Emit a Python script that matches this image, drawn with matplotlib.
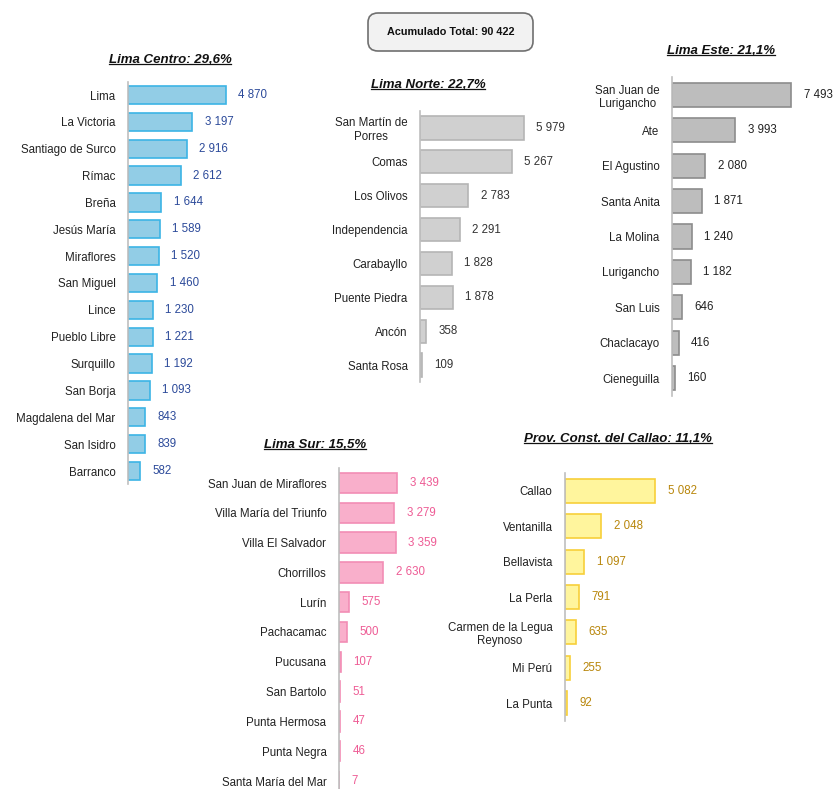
import matplotlib
matplotlib.use("Agg")
import matplotlib.pyplot as plt
from matplotlib.lines import Line2D
from matplotlib.patches import FancyBboxPatch

plt.rcParams['font.family'] = ['Liberation Sans', 'DejaVu Sans']

# ---------------- data ----------------
total_label = "Acumulado Total: 90 422"

centro_title = "Lima Centro: 29,6%"
centro_names = ["Lima", "La Victoria", "Santiago de Surco", "Rímac", "Breña", "Jesús María",
                "Miraflores", "San Miguel", "Lince", "Pueblo Libre", "Surquillo", "San Borja",
                "Magdalena del Mar", "San Isidro", "Barranco"]
centro_vals = [4870, 3197, 2916, 2612, 1644, 1589, 1520, 1460, 1230, 1221, 1192, 1093, 843, 839, 582]

norte_title = "Lima Norte: 22,7%"
norte_names = ["San Martín de\nPorres", "Comas", "Los Olivos", "Independencia", "Carabayllo",
               "Puente Piedra", "Ancón", "Santa Rosa"]
norte_vals = [5979, 5267, 2783, 2291, 1828, 1878, 358, 109]

este_title = "Lima Este: 21,1%"
este_names = ["San Juan de\nLurigancho", "Ate", "El Agustino", "Santa Anita", "La Molina",
              "Lurigancho", "San Luis", "Chaclacayo", "Cieneguilla"]
este_vals = [7493, 3993, 2080, 1871, 1240, 1182, 646, 416, 160]

sur_title = "Lima Sur: 15,5%"
sur_names = ["San Juan de Miraflores", "Villa María del Triunfo", "Villa El Salvador", "Chorrillos",
             "Lurín", "Pachacamac", "Pucusana", "San Bartolo", "Punta Hermosa", "Punta Negra",
             "Santa María del Mar"]
sur_vals = [3439, 3279, 3359, 2630, 575, 500, 107, 51, 47, 46, 7]

callao_title = "Prov. Const. del Callao: 11,1%"
callao_names = ["Callao", "Ventanilla", "Bellavista", "La Perla", "Carmen de la Legua\nReynoso",
                "Mi Perú", "La Punta"]
callao_vals = [5082, 2048, 1097, 791, 635, 255, 92]

W, H = 834, 789
fig = plt.figure(figsize=(W / 100, H / 100), dpi=100)
fig.patch.set_facecolor("white")

FS = 8.3


def fx(px):
    return px / W


def fy(py):
    return 1 - py / H


def panel(names, vals, x0, y_first, y_last, barlen, fill, edge, valcolor, title, title_xy):
    n = len(vals)
    step = (y_last - y_first) / (n - 1)
    top = y_first - 0.5 * step
    bottom = y_last + 0.5 * step
    width_px = 150
    ax = fig.add_axes([fx(x0), fy(bottom), fx(width_px), (bottom - top) / H])
    ax.set_facecolor("none")
    xmax = max(vals) * width_px / barlen
    ax.barh(range(n), vals, height=0.68, color=fill, edgecolor=edge, linewidth=1.2)
    ax.set_xlim(0, xmax)
    ax.set_ylim(n - 0.5, -0.5)
    ax.set_yticks(range(n))
    ax.set_yticklabels(names, fontsize=FS, color="#222222", linespacing=1.15)
    for lab in ax.get_yticklabels():
        lab.set_multialignment("center")
    ax.tick_params(axis="y", length=0, pad=9)
    ax.set_xticks([])
    for s in ["top", "right", "bottom"]:
        ax.spines[s].set_visible(False)
    ax.spines["left"].set_color("#BFBFBF")
    ax.spines["left"].set_linewidth(1.2)
    for i, v in enumerate(vals):
        ax.annotate(f"{v:,}".replace(",", " "), xy=(v, i), xytext=(9, 0),
                    textcoords="offset points", va="center", ha="left",
                    fontsize=FS, color=valcolor)
    t = fig.text(fx(title_xy[0]), fy(title_xy[1]), title, ha="center", va="center",
                 fontsize=9.5, fontweight="bold", fontstyle="italic", color="#111111")
    return t


titles = []
titles.append(panel(centro_names, centro_vals, 128, 95, 471, 98,
                    "#92CDE6", "#3CB4E5", "#2C4A9A", centro_title, (170, 60)))
titles.append(panel(norte_names, norte_vals, 420, 128, 365, 104,
                    "#D0D0D0", "#B5B5B5", "#333333", norte_title, (428, 85)))
titles.append(panel(este_names, este_vals, 672, 95, 378, 119,
                    "#BDBDBD", "#8C8C8C", "#222222", este_title, (721, 51)))
titles.append(panel(sur_names, sur_vals, 339, 483, 781, 58,
                    "#F9AFCB", "#F28DB5", "#EE5C95", sur_title, (315, 445)))
titles.append(panel(callao_names, callao_vals, 565, 491, 703, 90,
                    "#FFF59D", "#F7CF3A", "#B8860B", callao_title, (618, 439)))

# total box
box = FancyBboxPatch((fx(368), fy(51)), fx(165), (51 - 13) / H,
                     boxstyle="round,pad=0,rounding_size=0.012",
                     transform=fig.transFigure, facecolor="#F2F2F2",
                     edgecolor="#707070", linewidth=1.2)
fig.add_artist(box)
fig.text(fx(451), fy(32), total_label, ha="center", va="center",
         fontsize=7.8, fontweight="bold", color="#111111")

# underline titles
fig.canvas.draw()
renderer = fig.canvas.get_renderer()
inv = fig.transFigure.inverted()
for t in titles:
    bb = t.get_window_extent(renderer).transformed(inv)
    yline = bb.y0 + 0.15 * (bb.y1 - bb.y0)
    fig.add_artist(Line2D([bb.x0, bb.x1], [yline, yline], transform=fig.transFigure,
                          color="#111111", linewidth=0.9))

fig.savefig("out.png", dpi=100)
